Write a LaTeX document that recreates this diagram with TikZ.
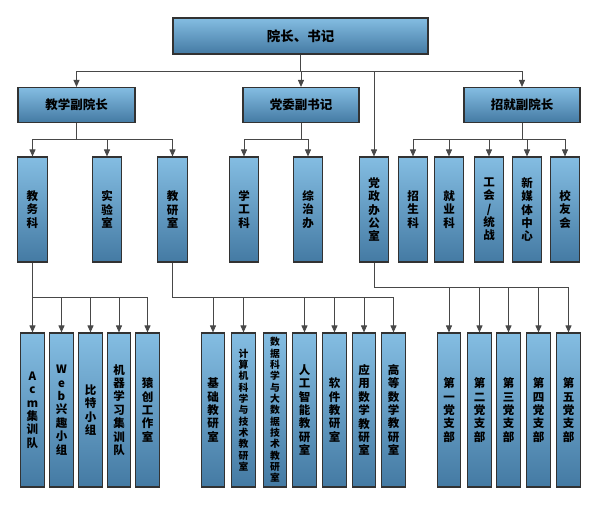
\documentclass[tikz,border=0pt]{standalone}
\usepackage{fontspec}
\setmainfont{Noto Sans CJK SC}
\usetikzlibrary{arrows.meta}
\definecolor{boxtop}{RGB}{132,189,226}
\definecolor{boxbot}{RGB}{68,122,163}
\definecolor{edgec}{RGB}{50,50,50}
\definecolor{wirec}{RGB}{72,72,72}
\begin{document}
\begin{tikzpicture}[x=1pt,y=-1pt,
  box/.style={draw=edgec,line width=1.1pt,top color=boxtop,bottom color=boxbot,inner sep=0pt,align=center},
  hbox/.style={box,minimum height=35pt,font=\bfseries\fontsize{12.5}{14}\selectfont},
  vbox/.style={box,minimum width=29.5pt,minimum height=105pt,font=\bfseries\fontsize{11.5}{13.3}\selectfont},
  tbox/.style={box,minimum width=23.5pt,minimum height=154pt,font=\bfseries\fontsize{11.5}{13.4}\selectfont},
  sbox/.style={tbox,font=\bfseries\fontsize{9.8}{11.35}\selectfont},
  wire/.style={draw=wirec,line width=0.9pt},
  arr/.style={wire,-{Triangle[length=7pt,width=6pt]}}
]
\useasboundingbox (0,0) rectangle (600,506);
% top
\node[hbox,minimum width=255pt,minimum height=36pt,font=\bfseries\fontsize{13.5}{15}\selectfont] (top) at (300.5,36) {院长、书记};
% level 2
\node[hbox,minimum width=117pt] (jx) at (76.5,105) {教学副院长};
\node[hbox,minimum width=116pt] (dw) at (301,105) {党委副书记};
\node[hbox,minimum width=116pt] (zj) at (522,105) {招就副院长};
% level 3
\node[vbox] (jwk) at (32.5,209.5) {教\\务\\科};
\node[vbox] (syz) at (107,209.5) {实\\验\\室};
\node[vbox] (jys) at (172.5,209.5) {教\\研\\室};
\node[vbox] (xgk) at (244,209.5) {学\\工\\科};
\node[vbox] (zzb) at (308,209.5) {综\\治\\办};
\node[vbox] (dzb) at (374,209.5) {党\\政\\办\\公\\室};
\node[vbox] (zsk) at (413,209.5) {招\\生\\科};
\node[vbox] (jyk) at (449,209.5) {就\\业\\科};
\node[vbox] (gh) at (489,209.5) {工\\会\\/\\统\\战};
\node[vbox] (xmt) at (527,209.5) {新\\媒\\体\\中\\心};
\node[vbox] (xyh) at (565,209.5) {校\\友\\会};
% level 4 left
\node[tbox] (acm) at (32.5,410) {A\\c\\m\\集\\训\\队};
\node[tbox] (web) at (61.5,410) {W\\e\\b\\兴\\趣\\小\\组};
\node[tbox] (bt) at (90.5,410) {比\\特\\小\\组};
\node[tbox] (jq) at (119,410) {机\\器\\学\\习\\集\\训\\队};
\node[tbox] (yc) at (147.5,410) {猿\\创\\工\\作\\室};
% level 4 middle
\node[tbox] (jc) at (213,410) {基\\础\\教\\研\\室};
\node[sbox] (jsj) at (243.5,410) {计\\算\\机\\科\\学\\与\\技\\术\\教\\研\\室};
\node[sbox] (sj) at (275,410) {数\\据\\科\\学\\与\\大\\数\\据\\技\\术\\教\\研\\室};
\node[tbox] (rg) at (304.5,410) {人\\工\\智\\能\\教\\研\\室};
\node[tbox] (rj) at (334.5,410) {软\\件\\教\\研\\室};
\node[tbox] (yy) at (364,410) {应\\用\\数\\学\\教\\研\\室};
\node[tbox] (gd) at (393.5,410) {高\\等\\数\\学\\教\\研\\室};
% level 4 right
\node[tbox] (d1) at (449,410) {第\\一\\党\\支\\部};
\node[tbox] (d2) at (479.5,410) {第\\二\\党\\支\\部};
\node[tbox] (d3) at (508.5,410) {第\\三\\党\\支\\部};
\node[tbox] (d4) at (538.5,410) {第\\四\\党\\支\\部};
\node[tbox] (d5) at (568.5,410) {第\\五\\党\\支\\部};
% buses
\coordinate (b0) at (0,71);
\coordinate (b1) at (0,139);
\coordinate (b2) at (0,297);
\coordinate (b3) at (0,287);
% connectors: top
\foreach \c in {jx,dw,zj,dzb}
  \draw[arr] (top.south) -- (top.south |- b0) -| (\c.north);
\foreach \c in {jwk,syz,jys}
  \draw[arr] (jx.south) -- (jx.south |- b1) -| (\c.north);
\foreach \c in {xgk,zzb}
  \draw[arr] (dw.south) -- (dw.south |- b1) -| (\c.north);
\foreach \c in {zsk,jyk,gh,xmt,xyh}
  \draw[arr] (zj.south) -- (zj.south |- b1) -| (\c.north);
\foreach \c in {acm,web,bt,jq,yc}
  \draw[arr] (jwk.south) -- (jwk.south |- b2) -| (\c.north);
\foreach \c in {jc,jsj,rg,rj,yy,gd}
  \draw[arr] (jys.south) -- (jys.south |- b2) -| (\c.north);
\foreach \c in {d1,d2,d3,d4,d5}
  \draw[arr] (dzb.south) -- (dzb.south |- b3) -| (\c.north);
\end{tikzpicture}
\end{document}
